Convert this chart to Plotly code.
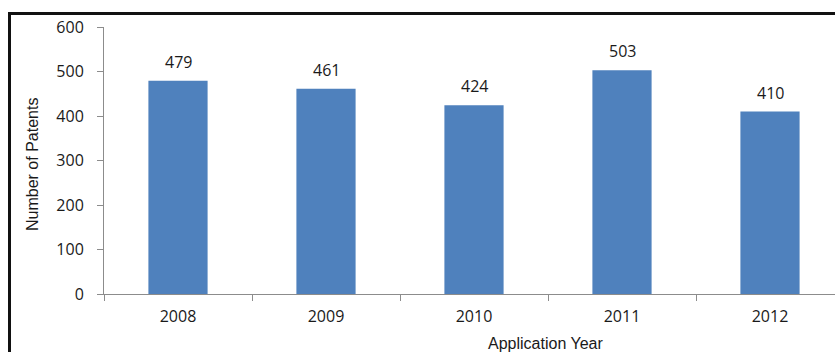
import plotly.graph_objects as go

years = ["2008", "2009", "2010", "2011", "2012"]
patents = [479, 461, 424, 503, 410]
y_ticks = [0, 100, 200, 300, 400, 500, 600]

W, H = 835, 352
L, T, B = 104, 27, 58
plot_w = W - L
plot_h = H - T - B


def px_x(x):
    return (x - L) / plot_w


def px_y(y):
    return (H - B - y) / plot_h


num_font = dict(family="Open Sans", size=16, color="#1a1a1a")
title_font = dict(family="Liberation Sans", size=16, color="#1a1a1a")

fig = go.Figure()
fig.add_trace(go.Bar(
    x=years,
    y=patents,
    width=0.4,
    marker=dict(color="#4F81BD", line=dict(width=0)),
    hoverinfo="x+y",
))

# value labels above each bar
for i, v in enumerate(patents):
    fig.add_annotation(x=i, y=v, text=str(v), showarrow=False,
                       yanchor="middle", yshift=19, font=num_font)

# axis titles
fig.add_annotation(xref="paper", yref="paper", x=px_x(33), y=px_y(165),
                   text="Number of Patents", textangle=-90, showarrow=False,
                   font=title_font, xanchor="center", yanchor="middle")
fig.add_annotation(xref="paper", yref="paper", x=px_x(486), y=px_y(343),
                   text="Application Year", showarrow=False,
                   font=title_font, xanchor="left", yanchor="middle")

# dark frame around the chart (top and left edges)
frame = dict(color="#111111", width=3)
fig.add_shape(type="line", xref="paper", yref="paper",
              x0=px_x(8), x1=px_x(840), y0=px_y(13.5), y1=px_y(13.5), line=frame)
fig.add_shape(type="line", xref="paper", yref="paper",
              x0=px_x(9.5), x1=px_x(9.5), y0=px_y(12), y1=px_y(360), line=frame)

fig.update_layout(
    width=W, height=H,
    margin=dict(l=L, r=0, t=T, b=B),
    paper_bgcolor="white", plot_bgcolor="white",
    showlegend=False,
    bargap=0.6,
    xaxis=dict(
        type="category",
        range=[-0.5, (W - L) / 148 - 0.5],
        showline=True, linecolor="#8c8c8c", linewidth=1,
        ticks="outside", tickson="boundaries", ticklen=6,
        tickcolor="#8c8c8c", tickwidth=1, ticklabelstandoff=8,
        tickfont=num_font, showgrid=False, zeroline=False,
    ),
    yaxis=dict(
        range=[0, 600], tickvals=y_ticks,
        showline=True, linecolor="#8c8c8c", linewidth=1,
        ticks="outside", ticklen=6, tickcolor="#8c8c8c", tickwidth=1,
        ticklabelstandoff=10,
        tickfont=num_font, showgrid=False, zeroline=False,
    ),
)

fig.write_html("out.html")
